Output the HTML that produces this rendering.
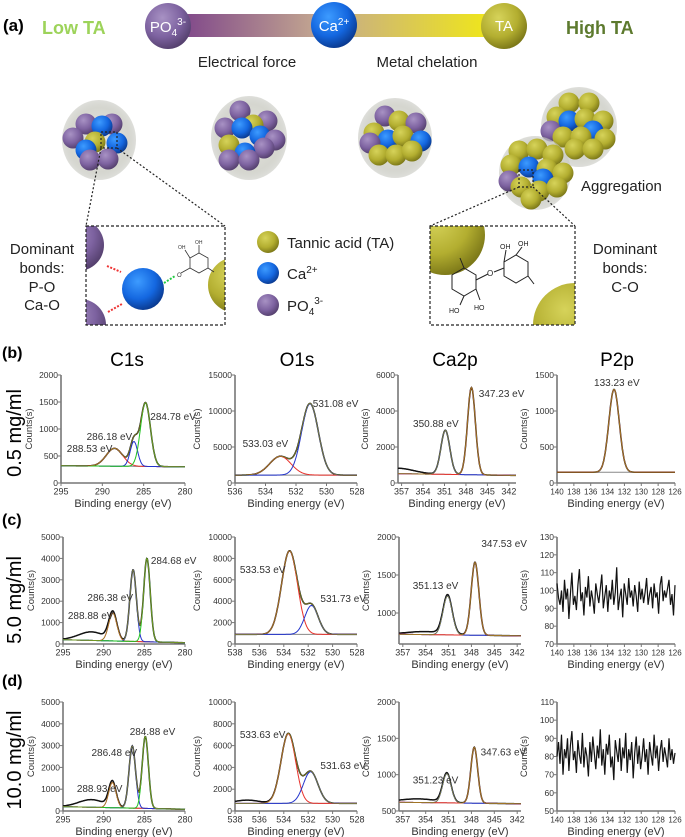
<!DOCTYPE html>
<html><head><meta charset="utf-8"><style>
html,body{margin:0;padding:0;background:#fff}
svg{display:block;font-family:"Liberation Sans",sans-serif}
</style></head><body>
<svg id="fig" width="685" height="837" viewBox="0 0 685 837">
<defs>
<radialGradient id="gP" cx="0.38" cy="0.32" r="0.7"><stop offset="0" stop-color="#a892c4"/><stop offset="0.6" stop-color="#7d62a0"/><stop offset="1" stop-color="#55406e"/></radialGradient>
<radialGradient id="gB" cx="0.38" cy="0.32" r="0.7"><stop offset="0" stop-color="#3d9bff"/><stop offset="0.6" stop-color="#1467e0"/><stop offset="1" stop-color="#0a3a90"/></radialGradient>
<radialGradient id="gY" cx="0.38" cy="0.32" r="0.7"><stop offset="0" stop-color="#d6d35a"/><stop offset="0.6" stop-color="#b3ae30"/><stop offset="1" stop-color="#7c7818"/></radialGradient>
<radialGradient id="gH" cx="0.5" cy="0.5" r="0.5"><stop offset="0" stop-color="#e6e6e0"/><stop offset="0.8" stop-color="#d5d6cf"/><stop offset="1" stop-color="#c8c9c2" stop-opacity="0.6"/></radialGradient>
<linearGradient id="gBar" x1="0" x2="1" y1="0" y2="0"><stop offset="0" stop-color="#7a3f8a"/><stop offset="0.45" stop-color="#c4a890"/><stop offset="1" stop-color="#f3ec10"/></linearGradient>
<clipPath id="clipL"><rect x="86" y="226" width="139" height="99"/></clipPath>
<clipPath id="clipR"><rect x="430" y="226" width="145" height="99"/></clipPath>
</defs>

<text x="3" y="31" font-size="17" font-weight="bold">(a)</text>
<text x="42" y="34" font-size="18" font-weight="bold" fill="#9dd35a">Low TA</text>
<text x="566" y="34" font-size="18" font-weight="bold" fill="#5d7a2e">High TA</text>
<rect x="170" y="14" width="334" height="23" fill="url(#gBar)"/>
<g id="topSpheres"></g>
<text x="247" y="67" font-size="15" text-anchor="middle" fill="#222">Electrical force</text>
<text x="427" y="67" font-size="15" text-anchor="middle" fill="#222">Metal chelation</text>
<g id="clusters"></g>
<text x="581" y="191" font-size="15" fill="#222">Aggregation</text>

<g stroke="#222" stroke-width="1.2" stroke-dasharray="2,2" fill="none">
<rect x="101" y="132" width="16" height="16"/>
<line x1="101" y1="148" x2="86" y2="226"/><line x1="117" y1="148" x2="225" y2="226"/>
<rect x="519" y="170" width="14" height="17"/>
<line x1="519" y1="187" x2="430" y2="226"/><line x1="533" y1="187" x2="575" y2="226"/>
</g>
<g clip-path="url(#clipL)">
<circle cx="78" cy="245" r="26" fill="url(#gP)"/>
<circle cx="80" cy="325" r="26" fill="url(#gP)"/>
<circle cx="236" cy="285" r="28" fill="url(#gY)"/>
<circle cx="143" cy="289" r="21" fill="url(#gB)"/>
<line x1="107" y1="266" x2="121" y2="272" stroke="#e33" stroke-width="2" stroke-dasharray="2,1.5"/>
<line x1="108" y1="312" x2="122" y2="304" stroke="#e33" stroke-width="2" stroke-dasharray="2,1.5"/>
<line x1="164" y1="283" x2="175" y2="276" stroke="#2c4" stroke-width="2" stroke-dasharray="2,1.5"/>
<g stroke="#333" stroke-width="0.8" fill="none"><polygon points="190,258 199,253 208,258 208,268 199,273 190,268"/><line x1="190" y1="268" x2="181" y2="273"/><line x1="208" y1="268" x2="214" y2="272"/><line x1="190" y1="258" x2="185" y2="250"/><line x1="199" y1="253" x2="199" y2="245"/></g>
<text x="177" y="277" font-size="6" fill="#333">O</text><text x="178" y="249" font-size="5" fill="#333">OH</text><text x="195" y="244" font-size="5" fill="#333">OH</text>
</g>
<rect x="86" y="226" width="139" height="99" fill="none" stroke="#222" stroke-width="1.2" stroke-dasharray="3,2"/>
<g clip-path="url(#clipR)">
<circle cx="445" cy="235" r="40" fill="url(#gY)"/>
<circle cx="575" cy="325" r="42" fill="url(#gY)"/>
<g stroke="#222" stroke-width="1" fill="none">
<polygon points="452,275 464,268 476,275 476,289 464,296 452,289"/>
<polygon points="504,262 516,255 528,262 528,276 516,283 504,276"/>
<line x1="476" y1="280" x2="488" y2="274"/><line x1="494" y1="272" x2="504" y2="268"/>
<line x1="464" y1="268" x2="460" y2="258"/><line x1="528" y1="276" x2="534" y2="284"/>
<line x1="464" y1="296" x2="460" y2="305"/><line x1="476" y1="289" x2="480" y2="300"/>
<line x1="504" y1="262" x2="506" y2="250"/><line x1="516" y1="255" x2="522" y2="247"/>
</g>
<text x="487" y="276" font-size="8" fill="#222">O</text>
<text x="500" y="249" font-size="7" fill="#222">OH</text><text x="518" y="246" font-size="7" fill="#222">OH</text>
<text x="449" y="313" font-size="7" fill="#222">HO</text><text x="474" y="310" font-size="7" fill="#222">HO</text>
</g>
<rect x="430" y="226" width="145" height="99" fill="none" stroke="#222" stroke-width="1.2" stroke-dasharray="3,2"/>
<g>
<circle cx="268" cy="242" r="11" fill="url(#gY)"/>
<text x="287" y="248" font-size="15" fill="#222">Tannic acid (TA)</text>
<circle cx="268" cy="273" r="11" fill="url(#gB)"/>
<text x="287" y="279" font-size="15" fill="#222">Ca<tspan dy="-6" font-size="10">2+</tspan></text>
<circle cx="268" cy="305" r="11" fill="url(#gP)"/>
<text x="287" y="311" font-size="15" fill="#222">PO<tspan dy="4" font-size="10">4</tspan><tspan dy="-11" font-size="10">3-</tspan></text>
</g>
<g font-size="15" fill="#222" text-anchor="middle">
<text x="42" y="254">Dominant</text><text x="42" y="273">bonds:</text><text x="42" y="292">P-O</text><text x="42" y="310">Ca-O</text></g>
<g font-size="15" fill="#222" text-anchor="middle">
<text x="625" y="254">Dominant</text><text x="625" y="273">bonds:</text><text x="625" y="292">C-O</text></g>

<text x="2" y="358" font-size="16" font-weight="bold">(b)</text>
<text x="2" y="525" font-size="16" font-weight="bold">(c)</text>
<text x="2" y="686" font-size="16" font-weight="bold">(d)</text>
<text transform="translate(21,433) rotate(-90)" font-size="20" text-anchor="middle">0.5 mg/ml</text>
<text transform="translate(21,600) rotate(-90)" font-size="20" text-anchor="middle">5.0 mg/ml</text>
<text transform="translate(21,760) rotate(-90)" font-size="20" text-anchor="middle">10.0 mg/ml</text>
<text x="127" y="366" font-size="19" text-anchor="middle">C1s</text>
<text x="297" y="366" font-size="19" text-anchor="middle">O1s</text>
<text x="455" y="366" font-size="19" text-anchor="middle">Ca2p</text>
<text x="617" y="366" font-size="19" text-anchor="middle">P2p</text>
<g id="charts"></g>
</svg>
<script>
const c1sB_centers=[288.53,286.18,284.78];
const c1sB_heights=[330,460,1180];
const c1sB_sigmas=[1.0,0.45,0.6];
const c1sB_base=[320,300];
const c1sB_labels=["288.53 eV","286.18 eV","284.78 eV"];
const c1sB_labelX=[294.3,291.9,284.2];
const c1sB_labelY=[630,850,1220];
const o1sB_centers=[533.03,531.08];
const o1sB_heights=[2600,9900];
const o1sB_sigmas=[0.7,0.55];
const o1sB_base=[1100,1100];
const o1sB_labels=["533.03 eV","531.08 eV"];
const o1sB_labelX=[535.5,530.9];
const o1sB_labelY=[5400,10970];
const ca2pB_centers=[350.88,347.23];
const ca2pB_heights=[2450,4850];
const ca2pB_sigmas=[0.62,0.55];
const ca2pB_base=[520,420];
const ca2pB_labels=["350.88 eV","347.23 eV"];
const ca2pB_labelX=[355.4,346.2];
const ca2pB_labelY=[3280,4940];
const p2pB_centers=[133.23];
const p2pB_heights=[1150];
const p2pB_sigmas=[0.62];
const p2pB_base=[150,150];
const p2pB_labels=["133.23 eV"];
const p2pB_labelX=[132.9];
const p2pB_labelY=[1390];
const c1sC_centers=[288.88,286.38,284.68];
const c1sC_heights=[1300,3350,3900];
const c1sC_sigmas=[0.5,0.4,0.4];
const c1sC_base=[200,60];
const c1sC_labels=["288.88 eV","286.38 eV","284.68 eV"];
const c1sC_labelX=[294.4,292,284.2];
const c1sC_labelY=[1310,2150,3880];
const o1sC_centers=[533.53,531.73];
const o1sC_heights=[7800,2700];
const o1sC_sigmas=[0.65,0.55];
const o1sC_base=[900,900];
const o1sC_labels=["533.53 eV","531.73 eV"];
const o1sC_labelX=[537.6,531.0];
const o1sC_labelY=[6900,4200];
const ca2pC_centers=[351.13,347.53];
const ca2pC_heights=[510,960];
const ca2pC_sigmas=[0.6,0.5];
const ca2pC_base=[720,700];
const ca2pC_labels=["351.13 eV","347.53 eV"];
const ca2pC_labelX=[355.7,346.7];
const ca2pC_labelY=[1355,1908];
const p2pC_noise=[104,96,92,100,88,106,95,101,84,98,110,92,97,89,103,112,94,99,86,102,96,108,91,100,95,87,104,98,93,101,109,90,97,103,88,100,95,106,92,99,113,89,96,101,85,104,98,92,107,96,100,91,103,97,88,105,95,101,93,99,107,92,98,102,90,104,96,99,87,103,108,94,100,96,101,106,92,98,86,103];
const c1sD_centers=[288.93,286.48,284.88];
const c1sD_heights=[1150,2850,3300];
const c1sD_sigmas=[0.45,0.4,0.38];
const c1sD_base=[200,80];
const c1sD_labels=["288.93 eV","286.48 eV","284.88 eV"];
const c1sD_labelX=[293.3,291.5,286.8];
const c1sD_labelY=[1010,2660,3620];
const o1sD_centers=[533.63,531.8];
const o1sD_heights=[6400,2900];
const o1sD_sigmas=[0.6,0.6];
const o1sD_base=[700,700];
const o1sD_labels=["533.63 eV","531.63 eV"];
const o1sD_labelX=[537.6,531.0];
const o1sD_labelY=[6970,4130];
const ca2pD_centers=[351.23,347.63];
const ca2pD_heights=[400,770];
const ca2pD_sigmas=[0.55,0.45];
const ca2pD_base=[620,600];
const ca2pD_labels=["351.23 eV","347.63 eV"];
const ca2pD_labelX=[355.7,346.8];
const ca2pD_labelY=[917,1305];
const p2pD_noise=[80,88,76,92,70,84,79,90,72,86,94,78,83,71,89,81,76,93,74,85,80,69,88,77,91,82,73,86,79,95,75,84,70,87,81,92,74,80,67,89,83,77,90,72,85,79,93,71,84,78,88,68,82,91,76,86,73,80,90,77,84,70,88,81,75,92,79,86,72,83,89,77,85,80,74,90,78,84,76,82];

const NS='http://www.w3.org/2000/svg';
function mk(tag,attrs,parent){const e=document.createElementNS(NS,tag);for(const k in attrs)e.setAttribute(k,attrs[k]);parent.appendChild(e);return e;}

const fillOf={P:'url(#gP)',B:'url(#gB)',Y:'url(#gY)'};
const topG=document.getElementById('topSpheres');
[[168,26,'P','PO4'],[334,25,'B','Ca'],[504,26,'Y','TA']].forEach(s=>{
  const c=mk('circle',{cx:s[0],cy:s[1],r:23,fill:fillOf[s[2]]},topG);
  
  
});
const t1=mk('text',{x:168,y:32,'font-size':15,fill:'#fff','text-anchor':'middle'},topG);t1.innerHTML='PO<tspan dy="4" font-size="10">4</tspan><tspan dy="-11" font-size="10">3-</tspan>';


const t2=mk('text',{x:334,y:31,'font-size':15,fill:'#fff','text-anchor':'middle'},topG);t2.innerHTML='Ca<tspan dy="-6" font-size="10">2+</tspan>';


const t3=mk('text',{x:504,y:31,'font-size':15,fill:'#fff','text-anchor':'middle'},topG);t3.textContent='TA';



const clusters=[
 {c:[99,140],r:[37,40],b:[[-13,-16,'P'],[13,-16,'P'],[3,-14,'B'],[-26,-2,'P'],[-4,2,'Y'],[18,3,'B'],[-13,10,'B'],[-9,20,'P'],[9,19,'P']]},
 {c:[249,138],r:[38,42],b:[[-9,-27,'P'],[18,-17,'P'],[4,-13,'Y'],[-24,-10,'P'],[-7,-10,'B'],[11,-2,'B'],[26,2,'P'],[-20,7,'Y'],[15,10,'P'],[-4,15,'B'],[-20,22,'P'],[0,22,'P']]},
 {c:[395,138],r:[37,40],b:[[-10,-22,'P'],[4,-17,'Y'],[21,-15,'P'],[-21,-5,'Y'],[-7,2,'B'],[8,-2,'Y'],[26,3,'B'],[-25,5,'P'],[-16,17,'Y'],[1,17,'Y'],[17,13,'Y']]},
 {c:[579,127],r:[38,40],b:[[-10,-24,'Y'],[10,-24,'Y'],[-22,-10,'Y'],[-28,4,'P'],[-10,-6,'B'],[6,-8,'Y'],[24,-6,'Y'],[14,4,'B'],[-16,10,'Y'],[2,10,'Y'],[26,12,'Y'],[-4,22,'Y'],[14,22,'Y']]},
 {c:[535,173],r:[36,37],b:[[-16,-22,'Y'],[2,-24,'Y'],[18,-18,'Y'],[-24,-8,'Y'],[-6,-6,'B'],[12,-4,'Y'],[28,0,'Y'],[-26,8,'P'],[8,6,'B'],[-14,14,'Y'],[4,18,'Y'],[22,14,'Y'],[-4,26,'Y']]}
];
const cg=document.getElementById('clusters');
clusters.forEach((cl,i)=>{
  const g=mk('g',{},cg);
  
  
  mk('ellipse',{cx:cl.c[0],cy:cl.c[1],rx:cl.r[0],ry:cl.r[1],fill:'url(#gH)'},g);
  cl.b.forEach(b=>mk('circle',{cx:cl.c[0]+b[0],cy:cl.c[1]+b[1],r:10.5,fill:fillOf[b[2]]},g));
});

const COL={red:'#e8302a',blue:'#2233cc',green:'#1fc21f'};
const charts=document.getElementById('charts');
function gauss(v,c,h,s){return h*Math.exp(-(v-c)*(v-c)/(2*s*s));}
function panel(o){
  const g=mk('g',{},charts);
  
  
  const sx=v=>o.x0+(o.xd[0]-v)/(o.xd[0]-o.xd[1])*(o.x1-o.x0);
  const sy=v=>o.y1-(v-o.yd[0])/(o.yd[1]-o.yd[0])*(o.y1-o.y0);
  const ya=mk('line',{x1:o.x0,y1:o.y0,x2:o.x0,y2:o.y1,stroke:'#777','stroke-width':1.6},g);
  
  
  const xa=mk('line',{x1:o.x0,y1:o.y1,x2:o.x1,y2:o.y1,stroke:'#777','stroke-width':1.6},g);
  
  
  const xfs=o.xfs||9;
  o.yt.forEach(t=>{const y=sy(t);mk('line',{x1:o.x0-3,y1:y,x2:o.x0,y2:y,stroke:'#777'},g);
    const tx=mk('text',{x:o.x0-3,y:y+3,'font-size':8.5,'text-anchor':'end',fill:'#333'},g);tx.textContent=t;
    
    });
  o.xt.forEach(t=>{const x=sx(t);mk('line',{x1:x,y1:o.y1,x2:x,y2:o.y1+3,stroke:'#777'},g);
    const tx=mk('text',{x:x,y:o.y1+11.5,'font-size':xfs,'text-anchor':'middle',fill:'#333'},g);tx.textContent=t;
    
    });
  const xt=mk('text',{x:(o.x0+o.x1)/2,y:o.y1+24,'font-size':11,'text-anchor':'middle',fill:'#333'},g);xt.textContent='Binding energy (eV)';
  
  
  const yl=mk('text',{transform:`translate(${o.x0-o.ytOff},${(o.y0+o.y1)/2}) rotate(-90)`,'font-size':9.5,'text-anchor':'middle',fill:'#333'},g);yl.textContent='Counts(s)';
  
  
  const N=220,a=o.xd[0],b=o.xd[1];
  const vs=[];for(let i=0;i<=N;i++)vs.push(a+(b-a)*i/N);
  if(o.noise){
    const pts=o.noise.map((n,i)=>sx(a+(b-a)*i/(o.noise.length-1)).toFixed(1)+','+sy(n).toFixed(1)).join(' ');
    const pl=mk('polyline',{points:pts,fill:'none',stroke:'#111','stroke-width':1.2},g);
    
    
    return;
  }
  const base=v=>o.base[0]+(o.base[1]-o.base[0])*(a-v)/(a-b);
  const env=v=>base(v)+o.centers.reduce((s,c,k)=>s+gauss(v,c,o.heights[k],o.sigmas[k]),0);
  const extra=v=>o.extra?gauss(v,o.extra[0],o.extra[1],o.extra[2]):0;
  const path=f=>vs.map(v=>sx(v).toFixed(1)+','+Math.min(o.y1,Math.max(o.y0-5,sy(f(v)))).toFixed(1)).join(' ');
  const bl=mk('polyline',{points:path(base),fill:'none',stroke:'#888','stroke-width':1},g);
  
  
  const raw=mk('polyline',{points:path(v=>env(v)+extra(v)),fill:'none',stroke:'#111','stroke-width':1.5},g);
  
  
  o.centers.forEach((c,k)=>{
    const pl=mk('polyline',{points:path(v=>base(v)+gauss(v,c,o.heights[k],o.sigmas[k])),fill:'none',stroke:COL[o.colors[k]],'stroke-width':1},g);
    
    
  });
  const ev=mk('polyline',{points:path(env),fill:'none',stroke:'#8a8a25','stroke-width':0.7},g);
  
  
  o.labels.forEach((l,k)=>{
    const t=mk('text',{x:sx(o.labelX[k]),y:sy(o.labelY[k])+3,'font-size':10,fill:'#333','text-anchor':o.anchor||'start'},g);t.textContent=l;
    
    
  });
}
panel({name:'chart-c1s-0-5',ytOff:29,x0:61,x1:185,y0:375,y1:483,xd:[295,280],yd:[0,2000],yt:[0,500,1000,1500,2000],xt:[295,290,285,280],centers:c1sB_centers,heights:c1sB_heights,sigmas:c1sB_sigmas,base:c1sB_base,colors:['red','blue','green'],labels:c1sB_labels,labelX:c1sB_labelX,labelY:c1sB_labelY});
panel({name:'chart-o1s-0-5',ytOff:35,x0:235,x1:357,y0:375,y1:483,xd:[536,528],yd:[0,15000],yt:[0,5000,10000,15000],xt:[536,534,532,530,528],centers:o1sB_centers,heights:o1sB_heights,sigmas:o1sB_sigmas,base:o1sB_base,colors:['red','blue'],labels:o1sB_labels,labelX:o1sB_labelX,labelY:o1sB_labelY});
panel({name:'chart-ca2p-0-5',ytOff:30,x0:398,x1:516,y0:375,y1:483,xd:[357.5,341],yd:[0,6000],yt:[0,2000,4000,6000],xt:[357,354,351,348,345,342],centers:ca2pB_centers,heights:ca2pB_heights,sigmas:ca2pB_sigmas,base:ca2pB_base,colors:['blue','red'],labels:ca2pB_labels,labelX:ca2pB_labelX,labelY:ca2pB_labelY,extra:[357.5,300,2.2]});
panel({name:'chart-p2p-0-5',ytOff:30,xfs:8,x0:557,x1:675,y0:375,y1:483,xd:[140,126],yd:[0,1500],yt:[0,500,1000,1500],xt:[140,138,136,134,132,130,128,126],centers:p2pB_centers,heights:p2pB_heights,sigmas:p2pB_sigmas,base:p2pB_base,colors:['red'],labels:p2pB_labels,labelX:p2pB_labelX,labelY:p2pB_labelY,anchor:'middle'});
panel({name:'chart-c1s-5-0',ytOff:29,x0:63,x1:185,y0:537,y1:644,xd:[295,280],yd:[0,5000],yt:[0,1000,2000,3000,4000,5000],xt:[295,290,285,280],centers:c1sC_centers,heights:c1sC_heights,sigmas:c1sC_sigmas,base:c1sC_base,colors:['red','blue','green'],labels:c1sC_labels,labelX:c1sC_labelX,labelY:c1sC_labelY,extra:[291.5,400,1.6]});
panel({name:'chart-o1s-5-0',ytOff:35,x0:235,x1:357,y0:537,y1:644,xd:[538,528],yd:[0,10000],yt:[0,2000,4000,6000,8000,10000],xt:[538,536,534,532,530,528],centers:o1sC_centers,heights:o1sC_heights,sigmas:o1sC_sigmas,base:o1sC_base,colors:['red','blue'],labels:o1sC_labels,labelX:o1sC_labelX,labelY:o1sC_labelY});
panel({name:'chart-ca2p-5-0',ytOff:30,x0:399,x1:521,y0:537,y1:644,xd:[357.5,341.5],yd:[592,2000],yt:[1000,1500,2000],xt:[357,354,351,348,345,342],centers:ca2pC_centers,heights:ca2pC_heights,sigmas:ca2pC_sigmas,base:ca2pC_base,colors:['blue','red'],labels:ca2pC_labels,labelX:ca2pC_labelX,labelY:ca2pC_labelY,extra:[354,40,2.5]});
panel({name:'chart-p2p-5-0',ytOff:30,xfs:8,x0:557,x1:675,y0:537,y1:644,xd:[140,126],yd:[70,130],yt:[70,80,90,100,110,120,130],xt:[140,138,136,134,132,130,128,126],noise:p2pC_noise});
panel({name:'chart-c1s-10-0',ytOff:29,x0:63,x1:185,y0:702,y1:811,xd:[295,280],yd:[0,5000],yt:[0,1000,2000,3000,4000,5000],xt:[295,290,285,280],centers:c1sD_centers,heights:c1sD_heights,sigmas:c1sD_sigmas,base:c1sD_base,colors:['red','blue','green'],labels:c1sD_labels,labelX:c1sD_labelX,labelY:c1sD_labelY,extra:[291.5,350,1.6]});
panel({name:'chart-o1s-10-0',ytOff:35,x0:235,x1:357,y0:702,y1:811,xd:[538,528],yd:[0,10000],yt:[0,2000,4000,6000,8000,10000],xt:[538,536,534,532,530,528],centers:o1sD_centers,heights:o1sD_heights,sigmas:o1sD_sigmas,base:o1sD_base,colors:['red','blue'],labels:o1sD_labels,labelX:o1sD_labelX,labelY:o1sD_labelY,extra:[537,300,1]});
panel({name:'chart-ca2p-10-0',ytOff:30,x0:399,x1:521,y0:702,y1:811,xd:[357.5,341.5],yd:[500,2000],yt:[500,1000,1500,2000],xt:[357,354,351,348,345,342],centers:ca2pD_centers,heights:ca2pD_heights,sigmas:ca2pD_sigmas,base:ca2pD_base,colors:['blue','red'],labels:ca2pD_labels,labelX:ca2pD_labelX,labelY:ca2pD_labelY,extra:[355,50,2.5]});
panel({name:'chart-p2p-10-0',ytOff:30,xfs:8,x0:557,x1:675,y0:702,y1:811,xd:[140,126],yd:[50,110],yt:[50,60,70,80,90,100,110],xt:[140,138,136,134,132,130,128,126],noise:p2pD_noise});
</script>
</body></html>
